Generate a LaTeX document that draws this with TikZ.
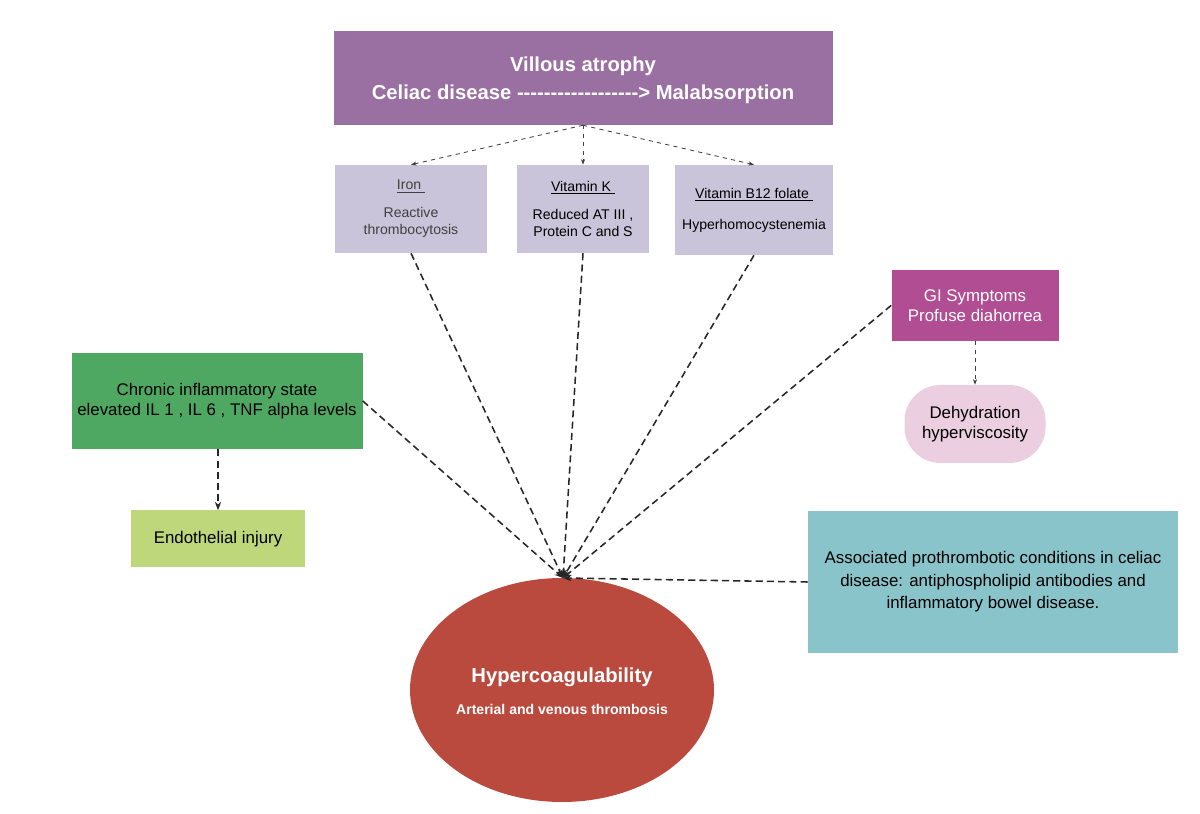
\documentclass[tikz,border=0pt]{standalone}
\usepackage{fontspec}
\setmainfont{Liberation Sans}
\usetikzlibrary{positioning,arrows.meta,shapes.geometric}

\definecolor{topviolet}{HTML}{9A6FA2}
\definecolor{lilac}{HTML}{CAC4DA}
\definecolor{magenta}{HTML}{B04D93}
\definecolor{pinkish}{HTML}{EBCEE0}
\definecolor{midgreen}{HTML}{4FA862}
\definecolor{limegreen}{HTML}{BFD77B}
\definecolor{tealblue}{HTML}{89C4CA}
\definecolor{brickred}{HTML}{BB4A3E}

\tikzset{
	box/.style={draw=none, align=center, inner sep=2pt},
	link/.style={dash pattern=on 5pt off 3pt, line width=1.1pt, -{Stealth[length=6pt]}, black!85},
	thinlink/.style={dashed, line width=0.6pt, -{Stealth[length=4pt]}, black!75},
}

\begin{document}
\begin{tikzpicture}
	\useasboundingbox (0,0) rectangle (30,20.325);

	% Boxes:
	\node[box, fill=topviolet, text=white, minimum width=12.475cm, minimum height=2.35cm, font=\bfseries\Large, text depth=0pt] (celiac) at (14.575,18.375) {Villous atrophy\\[2pt]Celiac disease -{}-{}-{}-{}-{}-{}-{}-{}-{}-{}-{}-{}-{}-{}-{}-{}-{}-{}> Malabsorption};
	\node[box, fill=lilac, text=black!75, minimum width=3.8cm, minimum height=2.2cm] (iron) at (10.275,15.1) {\underline{Iron\ }\\[8pt]Reactive\\thrombocytosis};
	\node[box, fill=lilac, minimum width=3.3cm, minimum height=2.2cm] (vitk) at (14.575,15.1) {\underline{Vitamin K\ }\\[8pt]Reduced AT III ,\\Protein C and S};
	\node[box, fill=lilac, minimum width=3.95cm, minimum height=2.25cm] (b12) at (18.85,15.075) {\underline{Vitamin B12 folate\ }\\[10pt]Hyperhomocystenemia};
	\node[box, fill=magenta, text=white, minimum width=4.175cm, minimum height=1.775cm, font=\large] (gi) at (24.375,12.69) {GI Symptoms\\Profuse diahorrea};
	\node[box, fill=pinkish, rounded corners=0.9cm, minimum width=3.525cm, minimum height=1.95cm, font=\large] (dehyd) at (24.375,9.725) {Dehydration\\hyperviscosity};
	\node[box, fill=midgreen, minimum width=7.275cm, minimum height=2.4cm, font=\large] (chronic) at (5.425,10.3) {Chronic inflammatory state\\elevated IL 1 , IL 6 , TNF alpha levels};
	\node[box, fill=limegreen, minimum width=4.35cm, minimum height=1.425cm, font=\large] (endo) at (5.45,6.85) {Endothelial injury};
	\node[box, fill=tealblue, minimum width=9.25cm, minimum height=3.55cm, font=\large] (assoc) at (24.825,5.775) {Associated prothrombotic conditions in celiac\\[2pt]disease: antiphospholipid antibodies and\\[2pt]inflammatory bowel disease.};
	\node[ellipse, fill=brickred, text=white, minimum width=7.6cm, minimum height=5.6cm, inner sep=0pt] (hyper) at (14.05,3.075) {};
	\node[text=white, font=\bfseries\Large] (hypert) at (14.05,3.4) {Hypercoagulability};
	\node[text=white, font=\bfseries, below=0.2cm of hypert] (hypers) {Arterial and venous thrombosis};

	\coordinate (meet) at (14.075,5.875);

	% Arrows:
	\draw[thinlink] (celiac.south) -- (iron.north);
	\draw[thinlink] (celiac.south) -- (vitk.north);
	\draw[thinlink] (celiac.south) -- (b12.north);
	\draw[thinlink] (gi.south) -- (dehyd.north);
	\draw[link] (chronic.south -| endo.north) -- (endo.north);
	\draw[link] (iron.south) -- (meet);
	\draw[link] (vitk.south) -- (meet);
	\draw[link] (b12.south) -- (meet);
	\draw[link] (chronic.east) -- (meet);
	\draw[link] (gi.west) -- (meet);
	\draw[link] (assoc.west) -- (meet);

\end{tikzpicture}
\end{document}
